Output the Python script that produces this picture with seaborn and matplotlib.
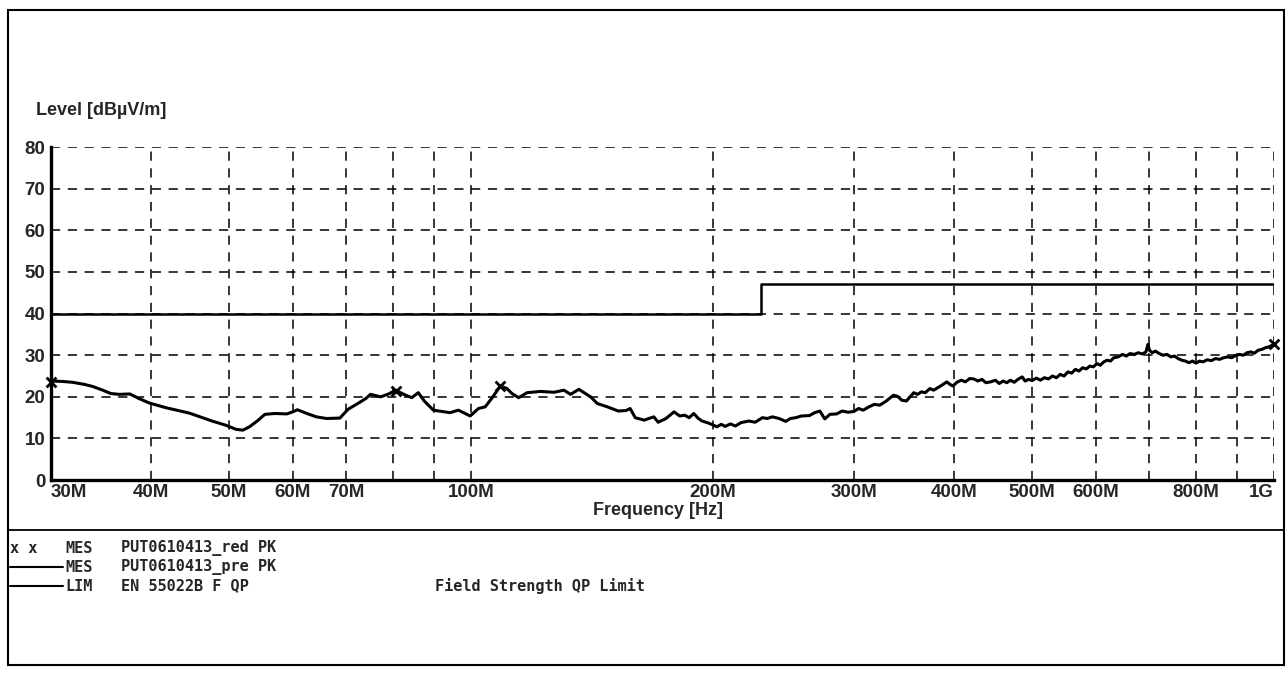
import numpy as np
import pandas as pd
import seaborn as sns
import matplotlib.pyplot as plt
from matplotlib.lines import Line2D
from matplotlib.patches import Rectangle

# measured spectrum (PUT0610413_pre PK), frequency in MHz, level in dBuV/m
meas_freq_mhz = [
    30.0, 31.0, 31.9, 33.0, 33.8, 34.8, 35.6, 36.5, 37.6, 38.6, 39.8, 41.7, 43.0, 44.6, 46.0,
    47.6, 49.5, 51.0, 52.0, 53.0, 54.2, 55.4, 57.0, 59.0, 60.0, 60.8, 62.5, 64.2, 66.1, 68.7,
    70.3, 72.3, 74.0, 75.0, 77.2, 79.0, 80.6, 82.5, 84.4, 86.0, 87.5, 89.8, 92.0, 94.2, 96.5,
    99.8, 102.2, 104.2, 106.5, 108.8, 110.9, 112.5, 114.7, 117.5, 122.1, 126.9, 130.6, 133.1,
    136.3, 141.0, 143.7, 147.9, 152.6, 156.0, 157.9, 160.2, 164.4, 166.0, 169.0, 171.1, 175.0,
    179.1, 182.0, 184.6, 187.0, 189.5, 192.0, 194.0, 197.0, 200.0, 202.5, 205.0, 207.4, 210.5,
    213.5, 217.0, 221.9, 226.0, 230.7, 234.0, 237.4, 242.0, 246.7, 250.0, 253.9, 258.0, 264.1,
    268.0, 272.0, 275.9, 280.0, 285.5, 290.0, 295.0, 300.0, 304.0, 308.0, 313.2, 318.0, 323.0,
    328.6, 333.0, 336.0, 340.1, 344.0, 348.7, 352.0, 356.0, 360.0, 364.0, 368.0, 373.0, 377.0,
    381.4, 386.0, 391.5, 395.0, 398.4, 403.0, 408.0, 413.0, 418.0, 423.0, 428.0, 433.0, 438.0,
    444.0, 450.0, 455.0, 460.0, 465.0, 470.0, 475.0, 480.0, 486.0, 490.0, 495.0, 500.0, 506.0,
    512.0, 518.0, 524.0, 530.0, 536.0, 542.0, 548.0, 554.0, 560.0, 566.0, 572.0, 578.0, 584.0,
    590.0, 596.0, 602.0, 608.0, 614.0, 620.0, 626.0, 632.0, 640.0, 648.0, 655.0, 662.0, 670.0,
    678.0, 686.0, 693.0, 697.0, 700.0, 706.0, 712.0, 720.0, 728.0, 736.0, 744.0, 752.0, 760.0,
    768.0, 776.0, 784.0, 792.0, 800.0, 808.0, 816.0, 826.0, 836.0, 846.0, 856.0, 866.0, 876.0,
    886.0, 896.0, 906.0, 916.0, 926.0, 936.0, 946.0, 956.0, 966.0, 976.0, 986.0, 1000.0,
]
meas_level = [
    23.8, 23.7, 23.5, 23.0, 22.5, 21.6, 20.8, 20.6, 20.7, 19.6, 18.5, 17.4, 16.8, 16.1, 15.2,
    14.2, 13.2, 12.2, 12.0, 12.8, 14.2, 15.8, 16.0, 15.9, 16.4, 16.9, 16.0, 15.2, 14.8, 14.9,
    17.0, 18.4, 19.6, 20.6, 20.0, 20.7, 21.6, 20.6, 19.8, 21.0, 19.0, 16.8, 16.5, 16.2, 16.8,
    15.4, 17.2, 17.6, 20.0, 22.6, 22.0, 20.8, 19.8, 21.0, 21.3, 21.1, 21.6, 20.6,
    21.8, 20.0, 18.4, 17.6, 16.6, 16.7, 17.2, 15.0, 14.4, 14.7, 15.2, 13.9, 14.8,
    16.4, 15.4, 15.6, 15.0, 16.0, 14.8, 14.2, 13.8, 13.3, 12.8, 13.4, 12.9, 13.5,
    13.0, 13.8, 14.2, 13.9, 15.0, 14.8, 15.2, 14.8, 14.1, 14.8, 15.0, 15.4, 15.5,
    16.2, 16.6, 14.7, 15.8, 15.9, 16.6, 16.3, 16.5, 17.2, 16.8, 17.6, 18.2, 18.0,
    18.9, 19.8, 20.4, 20.1, 19.2, 19.0, 19.9, 21.0, 20.6, 21.2, 21.0, 22.0, 21.6,
    22.2, 22.8, 23.6, 23.0, 22.6, 23.5, 24.0, 23.6, 24.4, 24.3, 23.8, 24.2, 23.4,
    23.6, 24.0, 23.2, 23.8, 23.4, 24.0, 23.5, 24.2, 24.8, 23.8, 24.2, 23.9, 24.5,
    24.0, 24.6, 24.3, 25.0, 24.6, 25.4, 25.0, 26.0, 25.7, 26.6, 26.2, 27.0, 26.7,
    27.4, 27.2, 28.0, 27.6, 28.4, 28.8, 28.6, 29.4, 29.6, 30.2, 29.8, 30.4, 30.2,
    30.6, 30.3, 30.8, 32.6, 31.2, 30.6, 31.0, 30.4, 30.0, 30.2, 29.6, 29.8, 29.2,
    28.8, 28.6, 28.2, 28.6, 28.1, 28.6, 28.4, 28.9, 28.7, 29.2, 29.0, 29.4, 29.6,
    29.4, 29.9, 30.2, 30.0, 30.6, 30.8, 30.5, 31.2, 31.4, 31.8, 32.0, 32.6,
]

# final peak readings (PUT0610413_red PK)
peak_freq_mhz = [30.0, 80.6, 108.8, 1000.0]
peak_level = [23.6, 21.4, 22.6, 32.6]

# EN 55022B field strength QP limit
limit_freq_mhz = [30.0, 230.0, 230.0, 1000.0]
limit_level = [40.0, 40.0, 47.0, 47.0]

tick_freq_mhz = [30, 40, 50, 60, 70, 80, 90, 100, 200, 300, 400, 500, 600, 700, 800, 900, 1000]
tick_labels = ["30M", "40M", "50M", "60M", "70M", "", "", "100M", "200M", "300M",
               "400M", "500M", "600M", "", "800M", "", "1G"]
y_ticks = [0, 10, 20, 30, 40, 50, 60, 70, 80]

sns.set_theme(style="white")
plt.rcParams['font.family'] = ['Liberation Sans', 'DejaVu Sans']

meas = pd.DataFrame({"f": np.array(meas_freq_mhz) * 1e6, "level": meas_level})
peaks = pd.DataFrame({"f": np.array(peak_freq_mhz) * 1e6, "level": peak_level})
limit = pd.DataFrame({"f": np.array(limit_freq_mhz) * 1e6, "level": limit_level})

fig = plt.figure(figsize=(12.88, 6.81), dpi=100)
ax = fig.add_axes([0.0396, 0.295, 0.9494, 0.489])

sns.lineplot(data=limit, x="f", y="level", ax=ax, color="black", lw=1.8,
             estimator=None, sort=False, zorder=3)
sns.lineplot(data=meas, x="f", y="level", ax=ax, color="black", lw=2.2,
             estimator=None, sort=False, zorder=4)
sns.scatterplot(data=peaks, x="f", y="level", ax=ax, marker="x", color="black",
                s=50, linewidth=2, zorder=5, clip_on=False)

ax.set_xscale("log")
ax.set_xlim(30e6, 1e9)
ax.set_ylim(0, 80)
ax.set_xticks([f * 1e6 for f in tick_freq_mhz])
ax.set_xticklabels(tick_labels)
ax.xaxis.set_minor_locator(plt.NullLocator())
ax.set_yticks(y_ticks)
ax.tick_params(axis="both", length=0, labelsize=13.5)
ax.tick_params(axis="x", pad=3)
ax.tick_params(axis="y", pad=4)
for lab in ax.get_xticklabels() + ax.get_yticklabels():
    lab.set_fontweight("bold")
xlabs = ax.get_xticklabels()
xlabs[0].set_horizontalalignment("left")
xlabs[-1].set_horizontalalignment("right")
ax.set_xlabel("")
ax.set_ylabel("")

ax.grid(True, color="black", linestyle=(0, (6, 5)), linewidth=1.1)
for side in ["top", "right"]:
    ax.spines[side].set_visible(False)
for side in ["left", "bottom"]:
    ax.spines[side].set_color("black")
    ax.spines[side].set_linewidth(2.4)

fig.text(0.028, 0.838, "Level [dBµV/m]", fontsize=13, fontweight="bold", va="center")
fig.text(0.511, 0.251, "Frequency [Hz]", fontsize=13, fontweight="bold",
         ha="center", va="center")

# frame and legend block
fig.add_artist(Rectangle((0.006, 0.0235), 0.991, 0.962, transform=fig.transFigure,
                         fill=False, edgecolor="black", linewidth=1.5))
fig.add_artist(Line2D([0.006, 0.997], [0.222, 0.222], transform=fig.transFigure,
                      color="black", linewidth=1.3))

mono = dict(family="DejaVu Sans Mono", fontsize=11, fontweight="bold", va="center")
rows = [0.1953, 0.1674, 0.1395]
fig.text(0.008, rows[0], "x x", **mono)
fig.text(0.051, rows[0], "MES", **mono)
fig.text(0.094, rows[0], "PUT0610413_red PK", **mono)
fig.text(0.051, rows[1], "MES", **mono)
fig.text(0.094, rows[1], "PUT0610413_pre PK", **mono)
fig.text(0.051, rows[2], "LIM", **mono)
fig.text(0.094, rows[2], "EN 55022B F QP", **mono)
fig.text(0.338, rows[2], "Field Strength QP Limit", **mono)
for r in rows[1:]:
    fig.add_artist(Line2D([0.008, 0.049], [r, r], transform=fig.transFigure,
                          color="black", linewidth=1.5))

fig.savefig("out.png", dpi=100)
